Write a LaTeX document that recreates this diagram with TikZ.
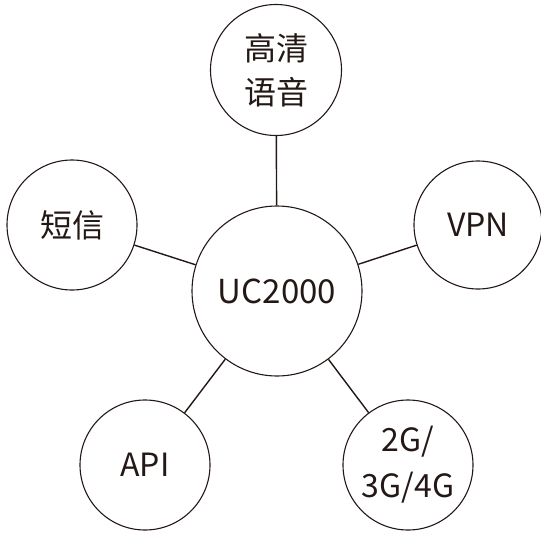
\documentclass[tikz,border=0pt]{standalone}
\usepackage{fontspec}
\setmainfont{Noto Sans CJK SC}
\definecolor{ink}{HTML}{231815}
\begin{document}
\begin{tikzpicture}[x=1pt,y=-1pt,
  bub/.style={circle,draw=ink,line width=1.1pt,inner sep=0pt,text=ink,font=\fontsize{32}{44}\selectfont,align=center},
  link/.style={draw=ink,line width=1.4pt}]
\useasboundingbox (0,0) rectangle (541,533);
\node[bub,minimum size=170pt,font=\fontsize{33}{44}\selectfont] (c) at (277,291) {UC2000};
\node[bub,minimum size=131pt] (t) at (276,70) {高清\\语音};
\node[bub,minimum size=130pt] (s) at (72,225) {短信};
\node[bub,minimum size=128pt] (v) at (478,225) {VPN};
\node[bub,minimum size=130pt] (a) at (145,465) {API};
\node[bub,minimum size=130pt,font=\fontsize{32}{46}\selectfont] (g) at (408,465) {2G/\\3G/4G};
\draw[link] (c) -- (t);
\draw[link] (c) -- (s);
\draw[link] (c) -- (v);
\draw[link] (c) -- (a);
\draw[link] (c) -- (g);
\end{tikzpicture}
\end{document}
